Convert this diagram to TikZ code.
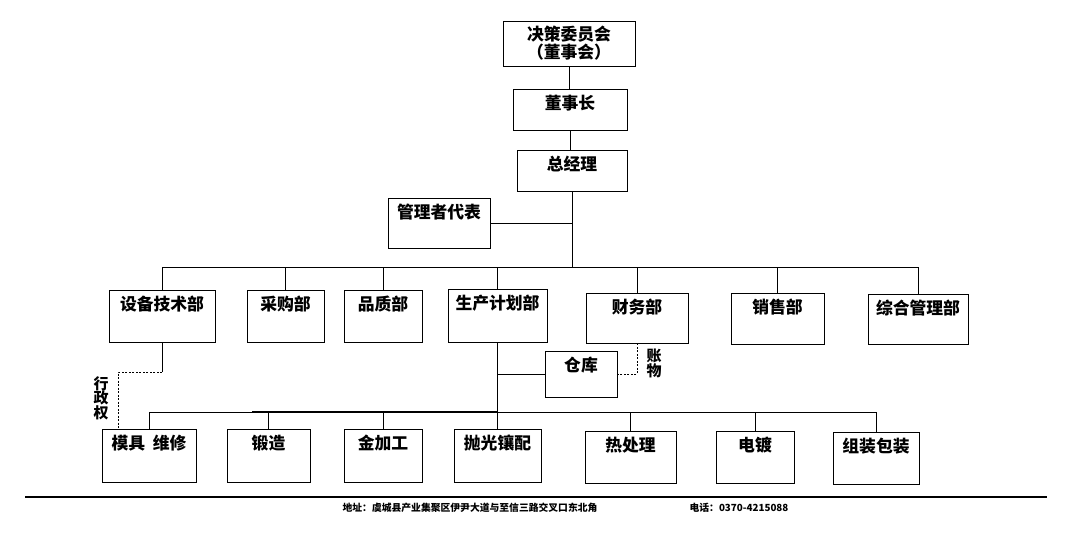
\documentclass[tikz,border=0pt]{standalone}
\usepackage{fontspec}
\newfontfamily\cjk{Noto Sans CJK SC}
\usetikzlibrary{calc}

\tikzset{
  unit/.style={draw, line width=0.8pt, inner sep=0pt},
  tag/.style={anchor=north, inner sep=2pt, yshift=-4pt, align=center,
    font=\cjk\bfseries\fontsize{16.8}{18}\selectfont},
  side/.style={inner sep=0pt, align=center, font=\cjk\bfseries\fontsize{15}{14.5}\selectfont},
  foot/.style={inner sep=0pt, font=\cjk\bfseries\fontsize{9.8}{10}\selectfont},
  wire/.style={line width=0.7pt},
}

\begin{document}
\begin{tikzpicture}[x=1pt, y=-1pt]
\useasboundingbox (0,0) rectangle (1076,538);

% top of the chart
\node[unit, minimum width=132pt, minimum height=45pt, label={[tag, yshift=1pt]north:{决策委员会\\（董事会）}}] (jc) at (569,43.5) {};
\node[unit, minimum width=114pt, minimum height=41pt, label={[tag]north:董事长}] (dsz) at (570,109.5) {};
\node[unit, minimum width=110pt, minimum height=41pt, label={[tag]north:总经理}] (zjl) at (572,170.5) {};
\node[unit, minimum width=102pt, minimum height=50pt, label={[tag]north:管理者代表}] (glz) at (439,223) {};

% departments
\node[unit, minimum width=106pt, minimum height=52pt, label={[tag]north:设备技术部}] (sb) at (162,316) {};
\node[unit, minimum width=77pt, minimum height=52pt, label={[tag]north:采购部}] (cg) at (285.5,316) {};
\node[unit, minimum width=78pt, minimum height=52pt, label={[tag]north:品质部}] (pz) at (383,316) {};
\node[unit, minimum width=99pt, minimum height=53pt, label={[tag]north:生产计划部}] (sc) at (497.5,315.5) {};
\node[unit, minimum width=102pt, minimum height=50pt, label={[tag]north:财务部}] (cw) at (637,318) {};
\node[unit, minimum width=93pt, minimum height=51pt, label={[tag]north:销售部}] (xs) at (777.5,318.5) {};
\node[unit, minimum width=100pt, minimum height=50pt, label={[tag]north:综合管理部}] (zh) at (918,319) {};
\node[unit, minimum width=72pt, minimum height=46pt, label={[tag]north:仓库}] (ck) at (581,374) {};

% workshops
\node[unit, minimum width=94pt, minimum height=53pt, label={[tag]north:模具\hspace{0.45em}维修}] (mj) at (149,455.5) {};
\node[unit, minimum width=83pt, minimum height=53pt, label={[tag]north:锻造}] (dz) at (268.5,455.5) {};
\node[unit, minimum width=78pt, minimum height=53pt, label={[tag]north:金加工}] (jj) at (383,455.5) {};
\node[unit, minimum width=87pt, minimum height=53pt, label={[tag]north:抛光镶配}] (pg) at (497.5,455.5) {};
\node[unit, minimum width=91pt, minimum height=52pt, label={[tag]north:热处理}] (rc) at (630.5,457) {};
\node[unit, minimum width=78pt, minimum height=52pt, label={[tag]north:电镀}] (dd) at (755,457) {};
\node[unit, minimum width=86pt, minimum height=52pt, label={[tag]north:组装包装}] (zz) at (876,458) {};

% connectors
\coordinate (topbus) at (572,267);
\coordinate (lowbus) at (497.5,412);
\coordinate (lowdark) at (252,412);
\coordinate (xzq) at (118,372);
\draw[wire] (jc.south) -- (jc.south |- dsz.north);
\draw[wire] (dsz.south) -- (dsz.south |- zjl.north);
\draw[wire] (zjl.south) -- (topbus);
\draw[wire] (glz.east) -- (glz.east -| zjl.south);
\draw[wire] (sb.north |- topbus) -- (zh.north |- topbus);
\foreach \d in {sb,cg,pz,sc,cw,xs,zh}
  \draw[wire] (\d.north) -- (\d.north |- topbus);
\draw[wire] (sc.south) -- (pg.north);
\draw[wire] (ck.west) -- (ck.west -| sc.south);
\draw[wire] (mj.north |- lowbus) -- (zz.north |- lowbus);
\draw[line width=1.6pt] (lowdark) -- (lowbus);
\foreach \d in {mj,dz,jj,rc,dd,zz}
  \draw[wire] (\d.north) -- (\d.north |- lowbus);

% dotted links
\draw[wire, dash pattern=on 2pt off 1.5pt] (cw.south) -- (cw.south |- ck.east) -- (ck.east);
\draw[wire] (sb.south) -- (sb.south |- xzq);
\draw[wire, dash pattern=on 2pt off 1.5pt] (sb.south |- xzq) -- (xzq) -- (xzq |- mj.north);
\node[side] (xzqlab) at (101,398) {行\\政\\权};
\node[side] (zwlab) at (654,363.5) {账\\物};

% footer
\coordinate (footL) at (25,497);
\coordinate (footR) at (1047,497);
\draw[line width=1.5pt] (footL) -- (footR);
\node[foot] (addr) at (470,508) {地址：虞城县产业集聚区伊尹大道与至信三路交叉口东北角};
\node[foot] (tel) at (739,508) {电话：0370-4215088};
\end{tikzpicture}
\end{document}
